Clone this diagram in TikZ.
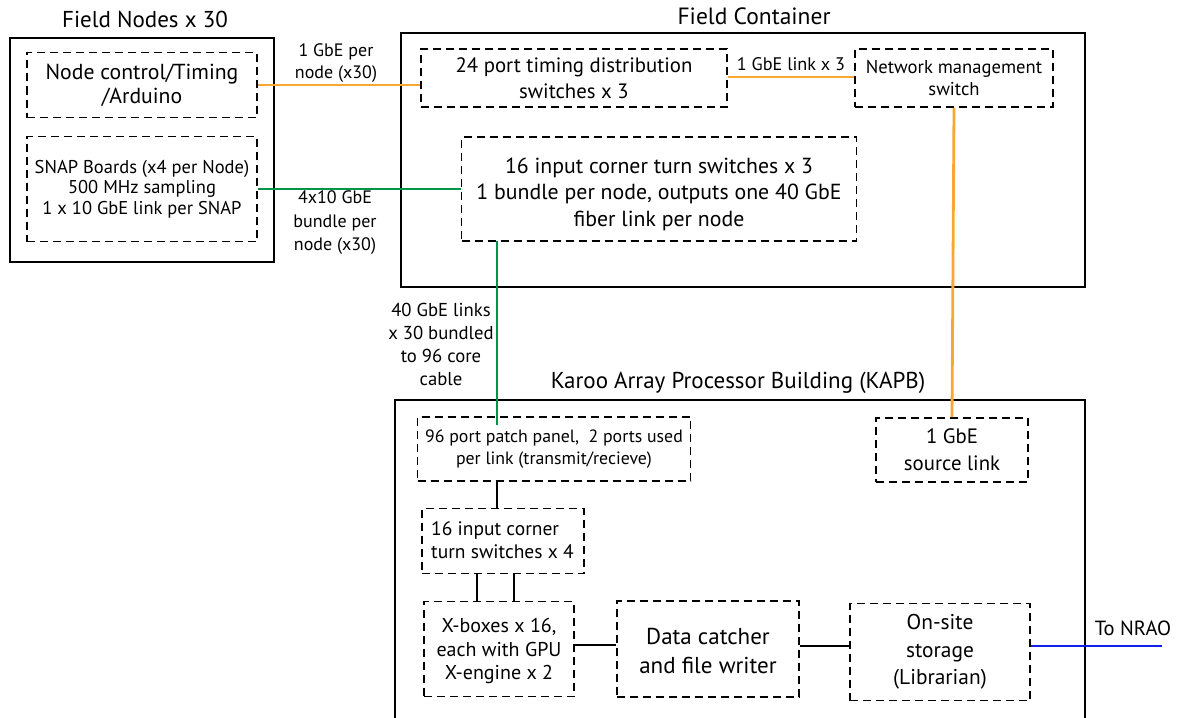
\documentclass[tikz,border=0pt]{standalone}
\usepackage{fontspec}
\setmainfont{PT Sans}
\definecolor{lnorange}{HTML}{F8A832}
\definecolor{lngreen}{HTML}{00944A}
\definecolor{lnblue}{HTML}{1020F0}
\tikzset{
  solidbox/.style={draw, line width=2pt, rectangle, inner sep=0pt},
  dbox/.style={draw, line width=1.9pt, dash pattern=on 8pt off 5pt, rectangle, inner sep=0pt, align=center},
  lbl/.style={align=center, inner sep=0pt},
  ol/.style={draw=lnorange, line width=2.8pt},
  gl/.style={draw=lngreen, line width=2.8pt},
  bl/.style={draw=lnblue, line width=1.6pt},
  kl/.style={draw=black, line width=1.8pt},
}
\begin{document}
\begin{tikzpicture}[x=1pt,y=-1pt]
\clip (0,0) rectangle (1177,717);
\fill[white] (0,0) rectangle (1177,717);
% outer boxes
\node[solidbox, minimum width=264, minimum height=224] (fieldnodes) at (142,150) {};
\node[lbl, font=\fontsize{23}{27}\selectfont] (fntitle) at (145,19) {Field Nodes x 30};
\node[solidbox, minimum width=684, minimum height=254] (container) at (743,160) {};
\node[lbl, font=\fontsize{23.5}{27}\selectfont] (fctitle) at (754,16) {Field Container};
\node[solidbox, minimum width=690, minimum height=340] (kapb) at (740,570) {};
\node[lbl, font=\fontsize{23}{27}\selectfont] (kapbtitle) at (738,383) {Karoo Array Processor Building (KAPB)};
% field node inner
\node[dbox, minimum width=230, minimum height=65, font=\fontsize{21.7}{24}\selectfont] (nodectl) at (142,85) {Node control/Timing\\/Arduino};
\node[dbox, minimum width=230, minimum height=105, font=\fontsize{18.5}{20.5}\selectfont] (snap) at (142,189) {SNAP Boards (x4 per Node)\\500 MHz sampling\\1 x 10 GbE link per SNAP};
% field container inner
\node[dbox, minimum width=306, minimum height=58, font=\fontsize{20.8}{25.5}\selectfont] (timing) at (574,78) {24 port timing distribution\\switches x 3};
\node[dbox, minimum width=198, minimum height=58, font=\fontsize{18.6}{22}\selectfont] (netmgmt) at (954,78) {Network management\\switch};
\node[dbox, minimum width=395, minimum height=104] (ctfield) at (659,189) {};
\node[lbl, font=\fontsize{21.8}{26.5}\selectfont] (ctfieldtext) at (659,194) {16 input corner turn switches x 3\\1 bundle per node, outputs one 40 GbE\\fiber link per node};
% KAPB inner
\node[dbox, minimum width=273, minimum height=64, font=\fontsize{17.8}{22}\selectfont] (patch) at (554,449) {96 port patch panel,\ \ 2 ports used\\per link (transmit/recieve)};
\node[dbox, minimum width=152, minimum height=64, font=\fontsize{20.8}{27}\selectfont] (source) at (952,450) {1 GbE\\source link};
\node[dbox, minimum width=162, minimum height=65] (ctkapb) at (503,541) {};
\node[lbl, anchor=west, align=left, font=\fontsize{19.5}{23}\selectfont] (ctkapbtext) at (431,540) {16 input corner\\turn switches x 4};
\node[dbox, minimum width=150, minimum height=95] (xbox) at (499,649) {};
\node[lbl, font=\fontsize{20}{23.5}\selectfont] (xboxtext) at (499,651) {X-boxes x 16,\\each with GPU\\X-engine x 2};
\node[dbox, minimum width=182, minimum height=96, font=\fontsize{23}{29}\selectfont] (catcher) at (708,649) {};
\node[lbl, font=\fontsize{23}{29}\selectfont] (catchertext) at (708,651) {Data catcher\\and file writer};
\node[dbox, minimum width=180, minimum height=97, font=\fontsize{21.4}{27.5}\selectfont] (storage) at (940,652) {On-site\\storage\\(Librarian)};
% connectors
\draw[ol] (nodectl.east) -- (nodectl.east -| timing.west);
\node[lbl, font=\fontsize{18}{21.5}\selectfont] (lbl1g) at (336,63) {1 GbE per\\node (x30)};
\draw[gl] (snap.east) -- (snap.east -| ctfield.west);
\node[lbl, font=\fontsize{18}{23.5}\selectfont] (lbl4x10) at (335,223) {4x10 GbE\\bundle per\\node (x30)};
\draw[ol] (timing.east |- 0,77) -- (netmgmt.west |- 0,77);
\node[lbl, font=\fontsize{18.2}{22}\selectfont] (lbllink3) at (791,64) {1 GbE link x 3};
\draw[ol] (netmgmt.south) -- (source.north);
\coordinate (gtop) at (497,241);
\coordinate (gbot) at (497,425);
\draw[gl] (gtop) -- (gbot);
\node[lbl, font=\fontsize{18.7}{23}\selectfont] (lbl40g) at (441,344) {40 GbE links\\x 30 bundled\\to 96 core\\cable};
\draw[kl] (patch.south -| gtop) -- (ctkapb.north -| gtop);
\draw[kl] (ctkapb.south -| 477,0) -- (xbox.north -| 477,0);
\draw[kl] (ctkapb.south -| 514,0) -- (xbox.north -| 514,0);
\draw[kl] (xbox.east |- 0,645) -- (catcher.west |- 0,645);
\draw[kl] (catcher.east |- 0,646) -- (storage.west |- 0,646);
\coordinate (nrao) at (1162,646);
\draw[bl] (storage.east |- nrao) -- (nrao);
\node[lbl, font=\fontsize{20.5}{24}\selectfont] (lblnrao) at (1133,628) {To NRAO};
\end{tikzpicture}
\end{document}
